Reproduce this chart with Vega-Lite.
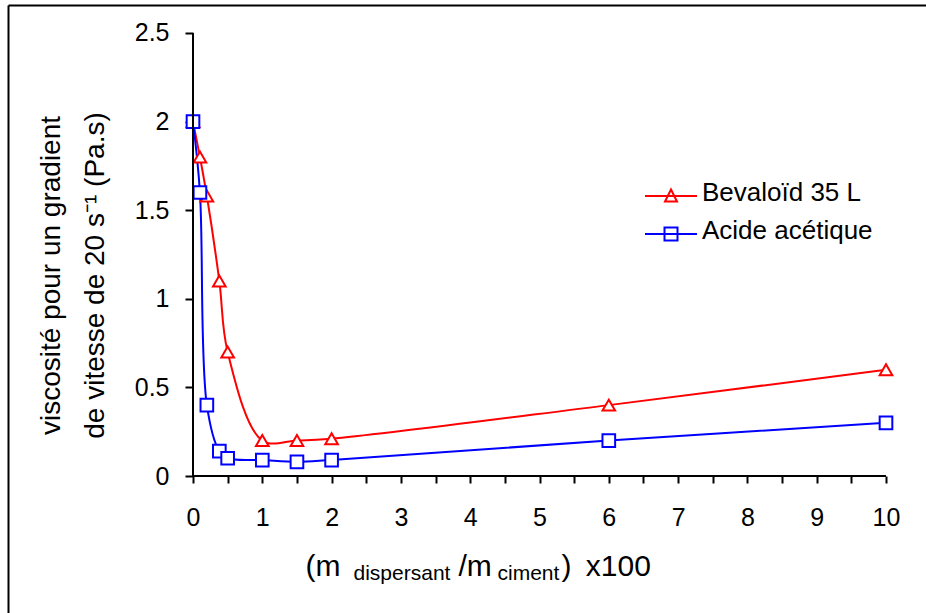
{
  "$schema": "https://vega.github.io/schema/vega-lite/v6.json",
  "width": 918,
  "height": 608,
  "autosize": "none",
  "padding": {"left": 8, "top": 5, "right": 0, "bottom": 0},
  "background": "white",
  "config": {
    "view": {"stroke": null},
    "font": "Liberation Sans",
    "axis": {
      "grid": false,
      "domainColor": "black",
      "tickColor": "black",
      "labelColor": "black",
      "titleColor": "black",
      "labelFont": "Liberation Sans",
      "titleFont": "Liberation Sans",
      "titleFontWeight": "normal",
      "titleAlign": "left",
      "titleAnchor": null,
      "titleBaseline": "alphabetic",
      "titleLimit": 0
    }
  },
  "data": {
    "values": [
      {"series": "Bevaloïd 35 L", "x": 0, "y": 2.0},
      {"series": "Bevaloïd 35 L", "x": 0.1, "y": 1.8},
      {"series": "Bevaloïd 35 L", "x": 0.2, "y": 1.58},
      {"series": "Bevaloïd 35 L", "x": 0.38, "y": 1.1},
      {"series": "Bevaloïd 35 L", "x": 0.5, "y": 0.7},
      {"series": "Bevaloïd 35 L", "x": 1, "y": 0.2},
      {"series": "Bevaloïd 35 L", "x": 1.5, "y": 0.2},
      {"series": "Bevaloïd 35 L", "x": 2, "y": 0.21},
      {"series": "Bevaloïd 35 L", "x": 6, "y": 0.4},
      {"series": "Bevaloïd 35 L", "x": 10, "y": 0.6},
      {"series": "Acide acétique", "x": 0, "y": 2.0},
      {"series": "Acide acétique", "x": 0.1, "y": 1.6},
      {"series": "Acide acétique", "x": 0.2, "y": 0.4},
      {"series": "Acide acétique", "x": 0.38, "y": 0.14},
      {"series": "Acide acétique", "x": 0.5, "y": 0.1},
      {"series": "Acide acétique", "x": 1, "y": 0.09},
      {"series": "Acide acétique", "x": 1.5, "y": 0.08},
      {"series": "Acide acétique", "x": 2, "y": 0.09},
      {"series": "Acide acétique", "x": 6, "y": 0.2},
      {"series": "Acide acétique", "x": 10, "y": 0.3}
    ]
  },
  "resolve": {"axis": {"x": "independent", "y": "independent"}},
  "layer": [
    {
      "mark": {"type": "line", "interpolate": "catmull-rom", "strokeWidth": 2},
      "encoding": {
        "x": {
          "field": "x",
          "type": "quantitative",
          "scale": {"domain": [-2.6696, 10.5772], "nice": false, "zero": false},
          "axis": {
            "orient": "bottom",
            "offset": -137,
            "values": [0, 0.5, 1, 1.5, 2, 2.5, 3, 3.5, 4, 4.5, 5, 5.5, 6, 6.5, 7, 7.5, 8, 8.5, 9, 9.5, 10],
            "format": "~g",
            "labelExpr": "datum.value % 1 === 0 ? datum.label : ''",
            "domain": false,
            "tickSize": 7,
            "tickWidth": 2,
            "labelFontSize": 25,
            "labelPadding": 22,
            "labelFlush": false,
            "labelOverlap": false,
            "labelBound": false,
            "title": "(m",
            "titleFontSize": 30,
            "titleX": 297,
            "titleY": 99,
            "titleAngle": 0
          }
        },
        "y": {
          "field": "y",
          "type": "quantitative",
          "scale": {"domain": [-0.7731, 2.658], "nice": false, "zero": false},
          "axis": {
            "orient": "left",
            "offset": -185,
            "values": [0, 0.5, 1, 1.5, 2, 2.5],
            "format": "~g",
            "domain": false,
            "tickSize": 8,
            "tickWidth": 2,
            "labelFontSize": 25,
            "labelPadding": 16,
            "labelFlush": false,
            "labelOverlap": false,
            "labelBound": false,
            "title": ["viscosité pour un gradient", "de vitesse de 20 s⁻¹ (Pa.s)"],
            "titleFontSize": 28,
            "titleX": -134,
            "titleY": 270,
            "titleAngle": 270,
            "titleAlign": "center",
            "titleLineHeight": 44
          }
        },
        "color": {
          "field": "series",
          "type": "nominal",
          "scale": {"domain": ["Bevaloïd 35 L", "Acide acétique"], "range": ["#FF0000", "#0000FF"]},
          "legend": {
            "title": null,
            "orient": "none",
            "legendX": 650,
            "legendY": 178,
            "direction": "vertical",
            "labelFontSize": 26,
            "labelFont": "Liberation Sans",
            "labelColor": "black",
            "labelLimit": 0,
            "symbolSize": 400,
            "symbolStrokeWidth": 2,
            "rowPadding": 12,
            "labelOffset": 18,
            "padding": 0,
            "encode": {
              "symbols": {
                "update": {
                  "shape": {"signal": "datum.index === 0 ? 'M-2.6,0H2.6M0,-0.65L0.6,0.55H-0.6Z' : 'M-2.6,0H2.6M-0.65,-0.65H0.65V0.65H-0.65Z'"},
                  "fill": {"value": "white"},
                  "strokeWidth": {"value": 2},
                  "opacity": {"value": 1}
                }
              },
              "labels": {"update": {"dy": {"value": -3}}}
            }
          }
        }
      }
    },
    {
      "transform": [{"filter": "datum.series === 'Bevaloïd 35 L'"}],
      "mark": {"type": "point", "shape": "triangle-up", "filled": false, "fill": "white", "stroke": "#FF0000", "strokeWidth": 2, "size": 160, "opacity": 1},
      "encoding": {
        "x": {
          "field": "x",
          "type": "quantitative",
          "axis": {
            "orient": "bottom",
            "offset": -137,
            "domain": false,
            "ticks": false,
            "labels": false,
            "title": "dispersant",
            "titleFontSize": 21,
            "titleX": 345,
            "titleY": 103,
            "titleAngle": 0
          }
        },
        "y": {
          "field": "y",
          "type": "quantitative",
          "axis": {
            "orient": "left",
            "offset": 0,
            "domain": true,
            "domainWidth": 2,
            "ticks": false,
            "labels": false,
            "title": null
          }
        }
      }
    },
    {
      "transform": [{"filter": "datum.series === 'Acide acétique'"}],
      "mark": {"type": "point", "shape": "square", "filled": false, "fill": "white", "stroke": "#0000FF", "strokeWidth": 2, "size": 160, "opacity": 1},
      "encoding": {
        "x": {
          "field": "x",
          "type": "quantitative",
          "axis": {
            "orient": "bottom",
            "offset": -137,
            "domain": false,
            "ticks": false,
            "labels": false,
            "title": "/m",
            "titleFontSize": 30,
            "titleX": 450,
            "titleY": 99,
            "titleAngle": 0
          }
        },
        "y": {"field": "y", "type": "quantitative", "axis": null}
      }
    },
    {
      "mark": {"type": "rule", "strokeWidth": 2, "color": "black"},
      "encoding": {
        "x": {
          "datum": 0,
          "type": "quantitative",
          "axis": {
            "orient": "top",
            "offset": 0,
            "domain": true,
            "domainWidth": 2,
            "ticks": false,
            "labels": false,
            "title": ")\u2009 x100",
            "titleFontSize": 30,
            "titleX": 553,
            "titleY": 570,
            "titleAngle": 0
          }
        },
        "x2": {"datum": 10},
        "y": {"datum": 0, "type": "quantitative", "axis": null}
      }
    },
    {
      "mark": {"type": "rule", "strokeWidth": 2, "color": "black"},
      "encoding": {
        "x": {
          "datum": 0,
          "type": "quantitative",
          "axis": {
            "orient": "bottom",
            "offset": -137,
            "domain": false,
            "ticks": false,
            "labels": false,
            "title": "ciment",
            "titleFontSize": 21,
            "titleX": 489,
            "titleY": 103,
            "titleAngle": 0
          }
        },
        "y": {"datum": 0, "type": "quantitative", "axis": null},
        "y2": {"datum": 2.5}
      }
    }
  ]
}
